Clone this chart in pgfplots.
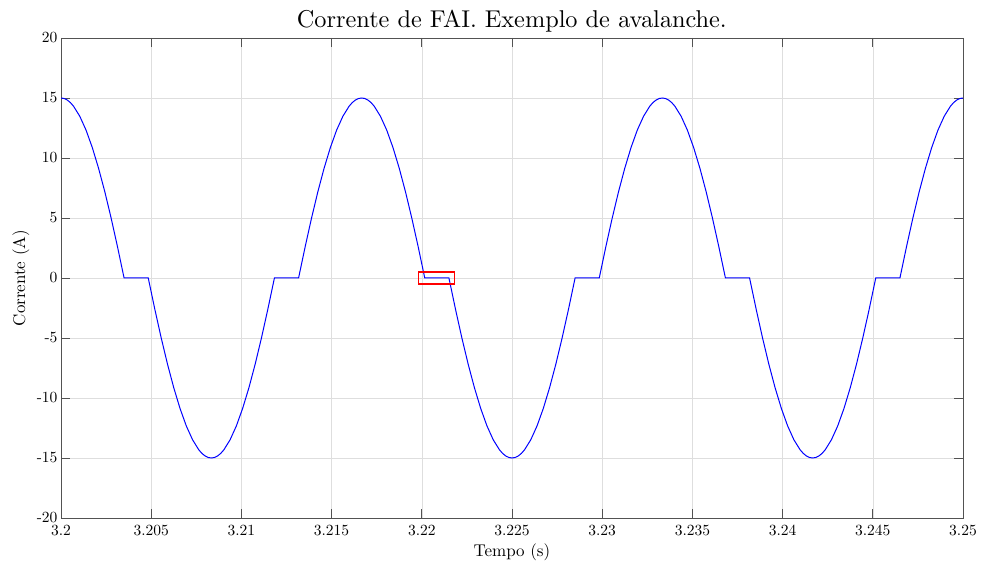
\documentclass[border=0pt]{standalone}
\usepackage{pgfplots}
\pgfplotsset{compat=1.18}
\font\titlefont=cmr10 at 24.3bp
\font\tickfont=cmr10 at 15.5bp
\font\labelfont=cmr10 at 17bp
\begin{document}
\begin{tikzpicture}
\begin{axis}[
  scale only axis, width=902bp, height=480bp,
  xmin=3.2, xmax=3.25, ymin=-20, ymax=20,
  xtick={3.2,3.205,3.21,3.215,3.22,3.225,3.23,3.235,3.24,3.245,3.25},
  xticklabels={3.2,3.205,3.21,3.215,3.22,3.225,3.23,3.235,3.24,3.245,3.25},
  ytick={-20,-15,-10,-5,0,5,10,15,20},
  yticklabels={-20,-15,-10,-5,0,5,10,15,20},
  tick align=inside, major tick length=9bp,
  grid=major, grid style={color=black!13, line width=0.5bp},
  axis line style={black!68, line width=0.8bp},
  tick style={black!68, line width=0.8bp},
  tick label style={font=\tickfont},
  xticklabel style={yshift=-4bp},
  title={Corrente de FAI. Exemplo de avalanche.},
  title style={font=\titlefont, at={(axis description cs:0.5,1)}, anchor=base, yshift=5bp},
  xlabel={Tempo (s)},
  xlabel style={font=\labelfont, at={(axis description cs:0.5,0)}, anchor=base, yshift=-38bp},
  ylabel={Corrente (A)},
  ylabel style={font=\labelfont, at={(axis description cs:-0.0399,0.5)}, anchor=base},
]
\addplot[blue, line width=1bp] table {
t i
3.200000 15
3.200174 14.957
3.200347 14.829
3.200521 14.616
3.200694 14.319
3.201042 13.478
3.201389 12.321
3.201736 10.867
3.202083 9.142
3.202431 7.175
3.202778 5
3.203125 2.654
3.203472 0.176
3.203496 0
3.204837 0
3.204861 -0.176
3.205208 -2.654
3.205556 -5
3.205903 -7.175
3.206250 -9.142
3.206597 -10.867
3.206944 -12.321
3.207292 -13.478
3.207639 -14.319
3.207812 -14.616
3.207986 -14.829
3.208159 -14.957
3.208333 -15
3.208507 -14.957
3.208681 -14.829
3.208854 -14.616
3.209028 -14.319
3.209375 -13.478
3.209722 -12.321
3.210069 -10.867
3.210417 -9.142
3.210764 -7.175
3.211111 -5
3.211458 -2.654
3.211806 -0.176
3.211830 0
3.213170 0
3.213194 0.176
3.213542 2.654
3.213889 5
3.214236 7.175
3.214583 9.142
3.214931 10.867
3.215278 12.321
3.215625 13.478
3.215972 14.319
3.216146 14.616
3.216319 14.829
3.216493 14.957
3.216667 15
3.216840 14.957
3.217014 14.829
3.217188 14.616
3.217361 14.319
3.217708 13.478
3.218056 12.321
3.218403 10.867
3.218750 9.142
3.219097 7.175
3.219444 5
3.219792 2.654
3.220139 0.176
3.220163 0
3.221504 0
3.221528 -0.176
3.221875 -2.654
3.222222 -5
3.222569 -7.175
3.222917 -9.142
3.223264 -10.867
3.223611 -12.321
3.223958 -13.478
3.224306 -14.319
3.224479 -14.616
3.224653 -14.829
3.224826 -14.957
3.225000 -15
3.225174 -14.957
3.225347 -14.829
3.225521 -14.616
3.225694 -14.319
3.226042 -13.478
3.226389 -12.321
3.226736 -10.867
3.227083 -9.142
3.227431 -7.175
3.227778 -5
3.228125 -2.654
3.228472 -0.176
3.228496 0
3.229837 0
3.229861 0.176
3.230208 2.654
3.230556 5
3.230903 7.175
3.231250 9.142
3.231597 10.867
3.231944 12.321
3.232292 13.478
3.232639 14.319
3.232812 14.616
3.232986 14.829
3.233160 14.957
3.233333 15
3.233507 14.957
3.233681 14.829
3.233854 14.616
3.234028 14.319
3.234375 13.478
3.234722 12.321
3.235069 10.867
3.235417 9.142
3.235764 7.175
3.236111 5
3.236458 2.654
3.236806 0.176
3.236830 0
3.238170 0
3.238194 -0.176
3.238542 -2.654
3.238889 -5
3.239236 -7.175
3.239583 -9.142
3.239931 -10.867
3.240278 -12.321
3.240625 -13.478
3.240972 -14.319
3.241146 -14.616
3.241319 -14.829
3.241493 -14.957
3.241667 -15
3.241840 -14.957
3.242014 -14.829
3.242188 -14.616
3.242361 -14.319
3.242708 -13.478
3.243056 -12.321
3.243403 -10.867
3.243750 -9.142
3.244097 -7.175
3.244444 -5
3.244792 -2.654
3.245139 -0.176
3.245163 0
3.246504 0
3.246528 0.176
3.246875 2.654
3.247222 5
3.247569 7.175
3.247917 9.142
3.248264 10.867
3.248611 12.321
3.248958 13.478
3.249306 14.319
3.249479 14.616
3.249653 14.829
3.249826 14.957
3.250000 15
};
\addplot[red, line width=1.2bp, line join=miter] coordinates {
(3.2198,-0.5) (3.2218,-0.5) (3.2218,0.5) (3.2198,0.5) (3.2198,-0.5)
};
\coordinate (ll) at (rel axis cs:0,0);
\coordinate (ur) at (rel axis cs:1,1);
\end{axis}
\pgfresetboundingbox
\path ([shift={(-61bp,-48bp)}]ll) rectangle ([shift={(18bp,38bp)}]ur);
\end{tikzpicture}
\end{document}
